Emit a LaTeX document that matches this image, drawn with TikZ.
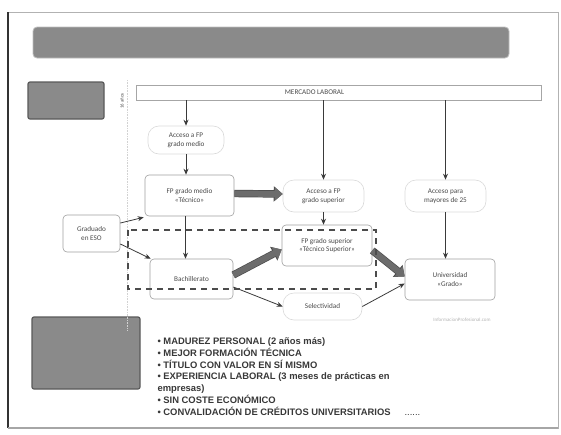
\documentclass[tikz,border=0pt]{standalone}
\usepackage{fontspec}
\usepackage{tikz}
\usetikzlibrary{calc,arrows.meta,positioning}
\newfontfamily\diagfont{Carlito}
\newfontfamily\listfont{Liberation Sans}
\definecolor{txtgray}{HTML}{4A4A4A}
\definecolor{linegray}{HTML}{3A3A3A}
\definecolor{barfill}{HTML}{8A8A8A}
\tikzset{
  stagebox/.style={draw=gray!75, rounded corners=4pt, line width=0.6pt,
    align=center, font=\diagfont\fontsize{7.2}{8.8}\selectfont, text=txtgray},
  accbox/.style={draw=gray!30, rounded corners=11pt, line width=0.6pt,
    align=center, font=\diagfont\fontsize{7.2}{8.8}\selectfont, text=txtgray},
  thinarrow/.style={draw=linegray, line width=0.8pt, -{Stealth[length=6pt,width=5pt]}},
  bigarrow/.style={line width=6pt, draw=gray!85!black,
    -{Triangle[length=8pt,width=13pt]},
    preaction={draw=black!70, line width=7.4pt, -{Triangle[length=9pt,width=15pt]}}},
  graybox/.style={fill=barfill, draw=black!65, line width=1.2pt, rounded corners=2pt}
}
\begin{document}
\begin{tikzpicture}[x=1pt,y=-1pt]
  \useasboundingbox (0,0) rectangle (561,434);
  % frame
  \draw[gray!60, line width=1pt] (8,12) rectangle (558,428);
  \draw[black!80, line width=1.6pt] (8,12) -- (8,428);
  \draw[gray!70, line width=1.4pt] (8,428) -- (558,428);
  % title bar and gray boxes
  \fill[barfill, rounded corners=4pt] (33,27) rectangle (509,58);
  \draw[gray!50, line width=0.8pt, rounded corners=4pt] (33,27) rectangle (509,58);
  \draw[graybox] (28,82) rectangle (104,119);
  \draw[graybox] (32,317) rectangle (140,389);
  % age line
  \draw[gray!35, densely dotted, line width=0.6pt] (127,80) -- (127,330);
  \node[rotate=90, font=\diagfont\fontsize{4.8}{5}\selectfont, text=txtgray]
    (edad) at (122,101) {16 años};
  % nodes
  \node[draw=gray!70, line width=0.6pt, minimum width=405pt, minimum height=15pt,
    label={[xshift=-24pt, font=\diagfont\fontsize{7.2}{8.8}\selectfont, text=txtgray]center:MERCADO LABORAL}]
    (merc) at (338.5,92.5) {};
  \node[accbox, minimum width=76pt, minimum height=28pt] (accm) at (186,140) {Acceso a FP\\grado medio};
  \node[stagebox, minimum width=89pt, minimum height=41pt] (fpm) at (189.5,195.5) {FP grado medio\\«Técnico»};
  \node[accbox, minimum width=81pt, minimum height=32pt] (accs) at (323.5,196) {Acceso a FP\\grado superior};
  \node[accbox, minimum width=81pt, minimum height=32pt] (accm25) at (445.5,196) {Acceso para\\mayores de 25};
  \node[stagebox, minimum width=57pt, minimum height=37pt] (eso) at (91.5,233.5) {Graduado\\en ESO};
  \node[stagebox, minimum width=83pt, minimum height=40pt] (bach) at (191.5,279) {Bachillerato};
  \node[stagebox, minimum width=90pt, minimum height=41pt] (fps) at (327,245.5) {FP grado superior\\«Técnico Superior»};
  \node[stagebox, minimum width=90pt, minimum height=41pt] (uni) at (450,279.5) {Universidad\\«Grado»};
  \node[accbox, minimum width=79pt, minimum height=27pt] (sel) at (322.5,306.5) {Selectividad};
  \node[font=\diagfont\fontsize{5}{5}\selectfont, text=gray!60] (web) at (462,320) {InformacionProfesional.com};
  % connectors
  \draw[thinarrow] (merc.south -| accm.north) -- (accm.north);
  \draw[thinarrow] (merc.south -| accs.north) -- (accs.north);
  \draw[thinarrow] (merc.south -| accm25.north) -- (accm25.north);
  \draw[thinarrow] (accm.south) -- (accm.south |- fpm.north);
  \draw[thinarrow] ([xshift=-4pt]fpm.south) -- ([xshift=-4pt]fpm.south |- bach.north);
  \draw[thinarrow] (accs.south) -- (accs.south |- fps.north);
  \draw[thinarrow] (accm25.south) -- (accm25.south |- uni.north);
  \draw[thinarrow] (eso.20) -- ([shift={(-1pt,-1pt)}]fpm.south west);
  \draw[thinarrow] (eso.-20) -- ([xshift=1pt]bach.north west);
  \draw[thinarrow] ([yshift=-8pt]bach.east) -- (sel.west);
  \draw[thinarrow] (sel.east) -- ([yshift=-4pt]uni.west);
  \draw[bigarrow] ([yshift=2pt]fpm.east) -- ([yshift=2pt]accs.west);
  \draw[bigarrow] ([yshift=4pt]bach.east) -- ([yshift=-4pt]fps.west);
  \draw[bigarrow] ([yshift=-5pt]fps.east) -- ([yshift=3pt]uni.west);
  % dashed group
  \draw[black!70, line width=2pt, dash pattern=on 6pt off 5pt] (128,230) rectangle (376,289);
  % advantages
  \node[anchor=north west, align=left, text=black!78,
    font=\listfont\bfseries\fontsize{9.4}{11.8}\selectfont] (lista) at (154,334) {%
    • MADUREZ PERSONAL (2 años más)\\
    • MEJOR FORMACIÓN TÉCNICA\\
    • TÍTULO CON VALOR EN SÍ MISMO\\
    • EXPERIENCIA LABORAL (3 meses de prácticas en\\
    empresas)\\
    • SIN COSTE ECONÓMICO\\
    • CONVALIDACIÓN DE CRÉDITOS UNIVERSITARIOS\hspace{14pt}{\mdseries ......}};
\end{tikzpicture}
\end{document}
